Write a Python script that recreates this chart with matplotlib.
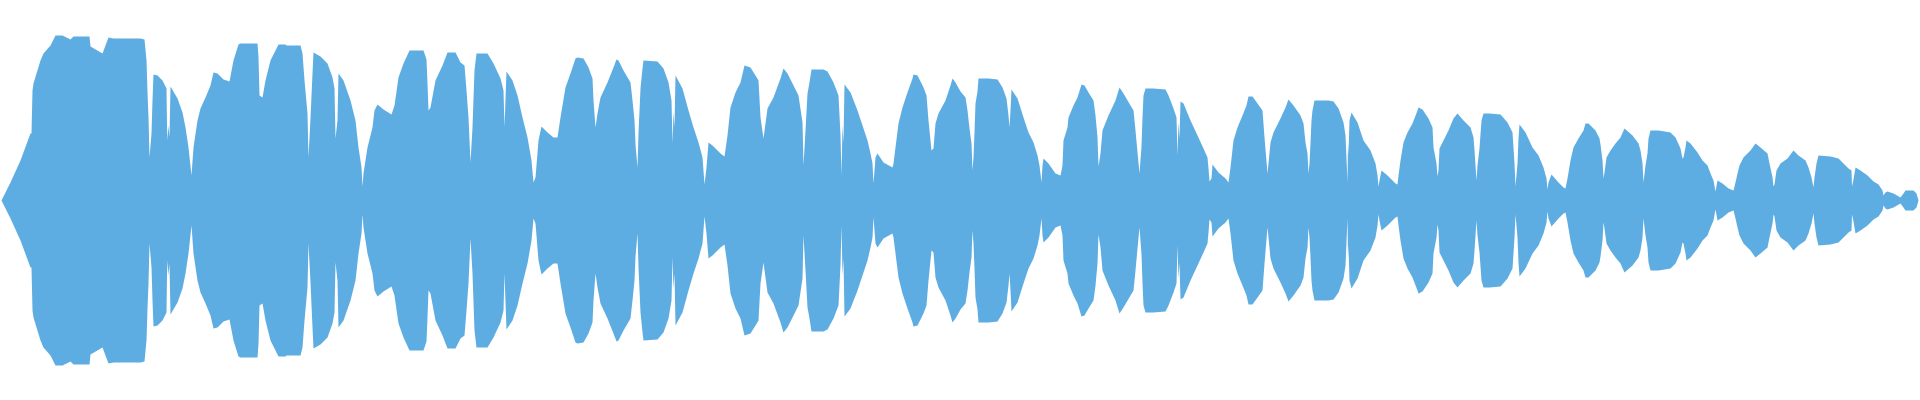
import numpy as np
import matplotlib.pyplot as plt

# envelope of the waveform (position, peak amplitude), mirrored around zero
t = [1, 10, 20, 30, 31, 32, 33, 40, 43, 50, 55, 62, 70, 73, 89, 90, 102, 108, 113, 140,
     144, 146, 147, 148, 149, 151, 152, 153, 157, 162, 166, 166.5, 167, 168, 169, 170, 177, 182, 185, 188,
     191, 193, 197, 200, 205, 210, 213, 217, 223, 229, 233, 238, 240, 257, 258, 259, 262, 265, 270, 278,
     285, 286, 300, 302, 304, 307, 308, 310, 312, 313, 320, 327, 332, 334, 335, 337, 338, 343, 350, 355,
     358, 361, 362, 363, 367, 372, 374, 377, 383, 391, 394, 398, 403, 409, 423, 426, 427, 428, 430, 435,
     442, 447, 455, 460, 464, 466, 468, 470, 472, 474, 476, 487, 493, 500, 503, 504, 506, 512, 517, 522,
     527, 531, 533, 535, 538, 541, 547, 553, 557, 560, 565, 570, 575, 577, 583, 588, 592, 593, 595, 597,
     600, 607, 613, 616, 618, 623, 630, 632, 634, 635, 637, 638, 640, 642, 643, 657, 663, 668, 671, 672,
     673, 674, 675, 682, 688, 693, 698, 702, 704, 706, 708, 712, 720, 724, 727, 730, 735, 740, 744, 750,
     755, 758, 760, 763, 765, 767, 773, 780, 783, 787, 793, 798, 802, 803, 805, 807, 809, 811, 823, 827,
     833, 838, 840, 841, 842, 843, 844, 850, 857, 862, 867, 870, 872, 873, 875, 877, 883, 892, 893, 895,
     898, 902, 907, 912, 913, 917, 923, 926, 928, 931, 933, 935, 938, 945, 950, 952, 955, 960, 965, 967,
     969, 971, 972, 973, 974, 975, 977, 978, 988, 997, 1002, 1006, 1008, 1009, 1010, 1011, 1017, 1023, 1028, 1033,
     1037, 1039, 1041, 1042, 1043, 1048, 1055, 1060, 1062, 1063, 1067, 1068, 1073, 1077, 1081, 1084, 1088, 1093, 1095, 1097,
     1098, 1100, 1102, 1104, 1108, 1115, 1119, 1123, 1130, 1133, 1135, 1137, 1139, 1141, 1142, 1143, 1145, 1153, 1165, 1168,
     1173, 1176, 1177, 1178, 1179, 1180, 1183, 1190, 1197, 1203, 1207, 1208, 1209, 1211, 1212, 1218, 1225, 1228, 1230, 1233,
     1237, 1242, 1246, 1248, 1252, 1257, 1262, 1264, 1267, 1268, 1270, 1273, 1280, 1285, 1288, 1293, 1300, 1303, 1305, 1307,
     1308, 1309, 1310, 1311, 1312, 1314, 1328, 1333, 1338, 1343, 1345, 1347, 1347.5, 1348, 1349, 1351, 1357, 1363, 1370, 1375,
     1377, 1378, 1379, 1381, 1387, 1395, 1397, 1398, 1400, 1403, 1407, 1412, 1417, 1418, 1422, 1428, 1432, 1433, 1436, 1437,
     1438, 1439, 1443, 1448, 1453, 1457, 1463, 1470, 1473, 1474, 1476, 1477, 1479, 1481, 1483, 1489, 1500, 1507, 1512, 1514,
     1515, 1517, 1518, 1519, 1525, 1532, 1538, 1543, 1546, 1547, 1548, 1551, 1558, 1563, 1565, 1567, 1570, 1573, 1578, 1583,
     1585, 1588, 1595, 1599, 1600, 1602, 1603, 1604, 1606, 1610, 1615, 1620, 1624, 1632, 1638, 1640, 1642, 1643, 1645, 1647,
     1648, 1650, 1658, 1670, 1675, 1680, 1682, 1683, 1685, 1686, 1690, 1697, 1702, 1707, 1710, 1713, 1715, 1717, 1722, 1728,
     1733, 1735, 1737, 1739, 1743, 1750, 1755, 1760, 1767, 1769, 1772, 1773, 1774, 1776, 1780, 1787, 1793, 1798, 1805, 1808,
     1811, 1813, 1814, 1816, 1818, 1830, 1838, 1843, 1848, 1851, 1851.5, 1853, 1855, 1860, 1867, 1873, 1878, 1882, 1883, 1885,
     1887, 1893, 1900, 1903, 1905, 1909, 1913, 1916, 1918]
amp = [0, 18, 40, 67, 67, 110, 117, 140, 147, 155, 165, 165, 161, 164, 164, 154, 147, 163, 162, 162,
       161, 140, 108, 83, 43, 67, 100, 126, 125, 120, 112, 75, 60, 75, 63, 114, 102, 88, 73, 53,
       25, 53, 80, 92, 103, 115, 128, 127, 121, 119, 140, 156, 157, 157, 143, 105, 103, 120, 140, 156,
       156, 155, 155, 147, 120, 87, 43, 82, 127, 148, 144, 137, 123, 112, 62, 80, 127, 120, 100, 80,
       53, 33, 14, 27, 53, 73, 90, 96, 91, 86, 95, 123, 137, 150, 150, 141, 117, 90, 93, 120,
       135, 148, 148, 138, 135, 110, 83, 38, 73, 130, 147, 147, 137, 122, 110, 73, 129, 120, 105, 83,
       63, 40, 18, 23, 60, 74, 68, 63, 63, 83, 113, 127, 142, 143, 142, 133, 122, 100, 73, 87,
       103, 118, 133, 141, 140, 130, 118, 100, 80, 56, 33, 67, 112, 132, 140, 139, 132, 118, 100, 57,
       88, 73, 125, 112, 90, 73, 58, 43, 16, 33, 58, 55, 47, 44, 65, 93, 108, 118, 135, 133,
       125, 120, 83, 62, 77, 92, 103, 122, 132, 127, 115, 105, 78, 35, 70, 107, 118, 131, 131, 129,
       118, 105, 65, 25, 75, 58, 116, 108, 90, 75, 60, 47, 37, 17, 43, 47, 38, 33, 37, 53,
       77, 93, 108, 122, 126, 125, 113, 105, 80, 50, 52, 77, 87, 100, 115, 122, 118, 109, 103, 90,
       72, 57, 30, 43, 68, 97, 109, 122, 122, 121, 113, 102, 85, 73, 90, 111, 102, 83, 68, 58,
       45, 35, 18, 35, 42, 37, 27, 25, 35, 60, 73, 83, 95, 103, 116, 115, 108, 100, 85, 63,
       34, 47, 70, 75, 85, 100, 113, 107, 95, 90, 70, 48, 27, 54, 83, 105, 112, 112, 111, 105,
       92, 83, 45, 78, 62, 99, 97, 80, 65, 52, 43, 32, 19, 22, 36, 28, 22, 18, 33, 60,
       73, 85, 95, 104, 104, 97, 90, 63, 27, 37, 58, 68, 82, 93, 101, 95, 85, 77, 58, 47,
       27, 37, 57, 80, 90, 100, 100, 99, 92, 78, 65, 18, 58, 45, 80, 88, 78, 60, 50, 37,
       25, 14, 20, 30, 25, 17, 16, 25, 40, 58, 68, 77, 90, 93, 91, 82, 73, 53, 37, 24,
       30, 52, 60, 70, 82, 87, 80, 73, 63, 50, 20, 35, 52, 80, 87, 87, 86, 78, 68, 37,
       14, 37, 62, 76, 68, 53, 45, 33, 22, 11, 18, 26, 18, 13, 12, 22, 40, 53, 62, 70,
       77, 77, 70, 62, 56, 40, 22, 28, 43, 50, 57, 63, 72, 65, 57, 50, 37, 18, 35, 47,
       62, 70, 70, 68, 63, 52, 42, 43, 53, 60, 57, 48, 40, 35, 27, 20, 9, 20, 17, 12,
       10, 18, 27, 35, 43, 50, 57, 53, 47, 37, 23, 14, 16, 30, 37, 42, 50, 45, 40, 33,
       23, 13, 23, 37, 45, 44, 42, 37, 32, 30, 14, 21, 33, 30, 25, 19, 16, 10, 5, 8,
       9, 7, 3, 7, 10, 10, 10, 7, 0]

t = np.array(t)
amp = np.array(amp)

fig = plt.figure(figsize=(19.2, 4), dpi=100)
ax = fig.add_axes([0, 0, 1, 1])

# hard pixel edges like the reference render
ax.fill_between(t, -amp, amp, color='#5DADE2', linewidth=0, antialiased=False)

ax.set_xlim(0, 1920)
ax.set_ylim(-200, 200)
ax.axis('off')

fig.savefig('out.png', dpi=100, facecolor='white')
